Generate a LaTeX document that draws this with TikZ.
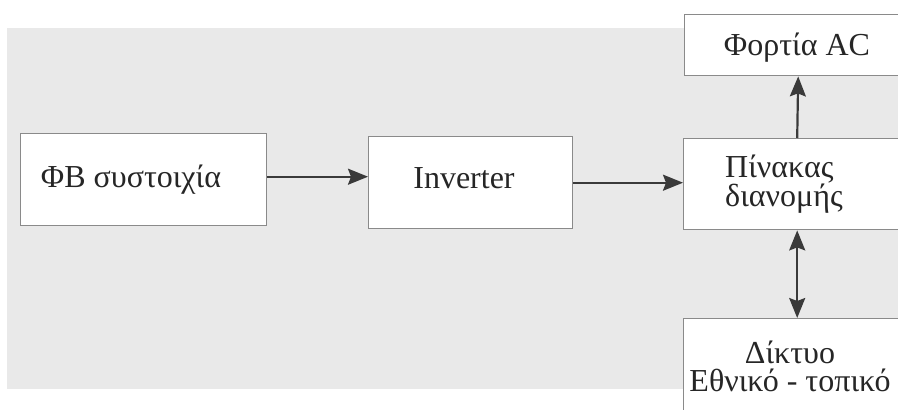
\documentclass[tikz,border=0pt]{standalone}
\usepackage{fontspec}
\setmainfont{Liberation Serif}
\usetikzlibrary{arrows.meta}
\definecolor{bggray}{HTML}{E9E9E9}
\definecolor{boxline}{HTML}{8A8A8A}
\definecolor{arrcol}{HTML}{3A3A3A}
\begin{document}
\begin{tikzpicture}[x=1pt,y=-1pt,
  blk/.style={draw=boxline,line width=1.4pt,fill=white,inner sep=0pt},
  lbl/.style={font=\fontsize{32}{28}\selectfont,text=black!85,inner sep=0pt},
  arr/.style={draw=arrcol,line width=2.2pt,-{Stealth[length=20pt,width=16pt,inset=3pt]}},
  darr/.style={draw=arrcol,line width=2.2pt,{Stealth[length=20pt,width=16pt,inset=3pt]}-{Stealth[length=20pt,width=16pt,inset=3pt]}}]
\useasboundingbox (0,0) rectangle (898,410);
\clip (0,0) rectangle (898,410);
\fill[bggray] (7,28) rectangle (898,389);
% boxes
\node[blk,minimum width=246pt,minimum height=92pt,anchor=north west] (b1) at (20,133) {};
\node[blk,minimum width=204pt,minimum height=92pt,anchor=north west] (b2) at (368,136) {};
\node[blk,minimum width=227pt,minimum height=91pt,anchor=north west] (b3) at (683,138) {};
\node[blk,minimum width=227pt,minimum height=61pt,anchor=north west] (b4) at (684,14) {};
\node[blk,minimum width=227pt,minimum height=102pt,anchor=north west] (b5) at (683,318) {};
% texts
\node[lbl,anchor=base] (t1) at (131,187) {ΦΒ συστοιχία};
\node[lbl,anchor=base] (t2) at (464,188) {Inverter};
\node[lbl,align=left,anchor=west] (t3) at (725,184) {Πίνακας\\διανομής};
\node[lbl,anchor=base] (t4) at (797,55) {Φορτία AC};
\node[lbl,align=center] (t5) at (790,366) {Δίκτυο\\Εθνικό - τοπικό};
% connectors
\draw[arr] ([yshift=3pt]b1.east) -- ([yshift=3pt]b1.east -| b2.west);
\draw[arr] (b2.east) -- (b2.east -| b3.west);
\draw[arr] (b3.north) -- (b4.south);
\draw[darr] (b3.south) -- (b5.north);
\end{tikzpicture}
\end{document}
